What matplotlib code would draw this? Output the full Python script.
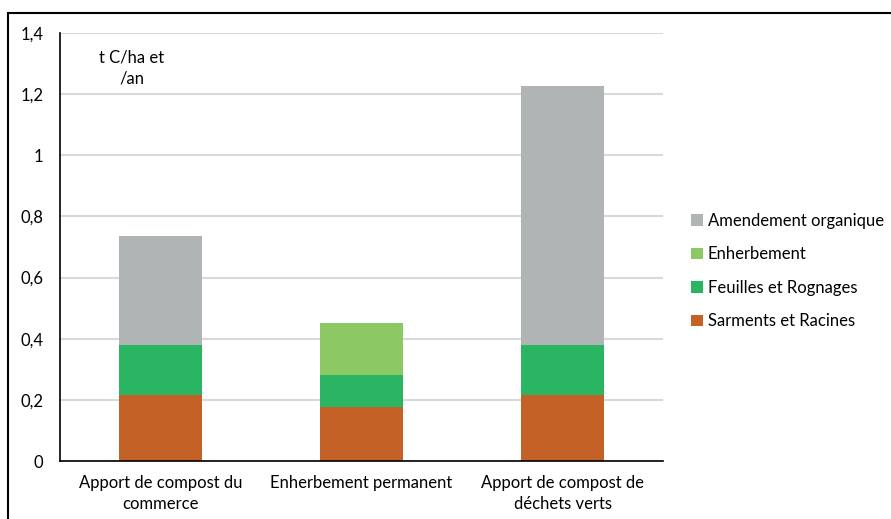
import numpy as np
import matplotlib.pyplot as plt
from matplotlib.patches import Rectangle

plt.rcParams['font.family'] = ['Lato', 'DejaVu Sans']

# data
categories = ['Apport de compost du\ncommerce', 'Enherbement permanent',
              'Apport de compost de\ndéchets verts']
sarments = [0.215, 0.177, 0.215]
feuilles = [0.165, 0.105, 0.165]
enherbement = [0.0, 0.17, 0.0]
amendement = [0.355, 0.0, 0.848]

series = [('Sarments et Racines', sarments, '#c46127'),
          ('Feuilles et Rognages', feuilles, '#2ab563'),
          ('Enherbement', enherbement, '#8cc965'),
          ('Amendement organique', amendement, '#b1b4b4')]

fig = plt.figure(figsize=(8.91, 5.19), dpi=100)
ax = fig.add_axes([60 / 891, 1 - 461 / 519, 603 / 891, 428 / 519])

x = np.arange(len(categories))
bottom = np.zeros(len(categories))
handles = []
for name, vals, col in series:
    vals = np.array(vals)
    b = ax.bar(x, vals, 0.41, bottom=bottom, color=col, label=name, zorder=3)
    handles.append(b)
    bottom += vals

ax.set_xlim(-0.5, 2.5)
ax.set_ylim(0, 1.4)
ax.set_yticks(np.arange(0, 1.41, 0.2))
ax.set_yticklabels(['0', '0,2', '0,4', '0,6', '0,8', '1', '1,2', '1,4'])
ax.set_xticks(x)
ax.set_xticklabels(categories, linespacing=1.4)
ax.tick_params(length=0, labelsize=12, colors='#000000')
ax.tick_params(axis='y', pad=12)
ax.tick_params(axis='x', pad=10)
ax.yaxis.grid(True, color='#d9d9d9', linewidth=1.5, zorder=0)
ax.set_axisbelow(True)
for s in ['top', 'right']:
    ax.spines[s].set_visible(False)
for s in ['left', 'bottom']:
    ax.spines[s].set_color('#000000')
    ax.spines[s].set_linewidth(1.2)
    ax.spines[s].set_zorder(4)

ax.text(0.119, 0.962, 't C/ha et\n/an', transform=ax.transAxes, ha='center',
        va='top', fontsize=12, linespacing=1.4)

leg = fig.legend(handles=handles[::-1], loc='upper left',
                 bbox_to_anchor=(676 / 891, 1 - 198 / 519), frameon=False,
                 fontsize=12, handlelength=0.7, handleheight=0.7,
                 handletextpad=0.3, labelspacing=1.05)

# outer frame
fig.patches.append(Rectangle((8 / 891, -0.1), 1.0, 1.1 - 13 / 519,
                             transform=fig.transFigure, fill=False,
                             edgecolor='#000000', linewidth=1.5))

fig.savefig('out.png', dpi=100)
